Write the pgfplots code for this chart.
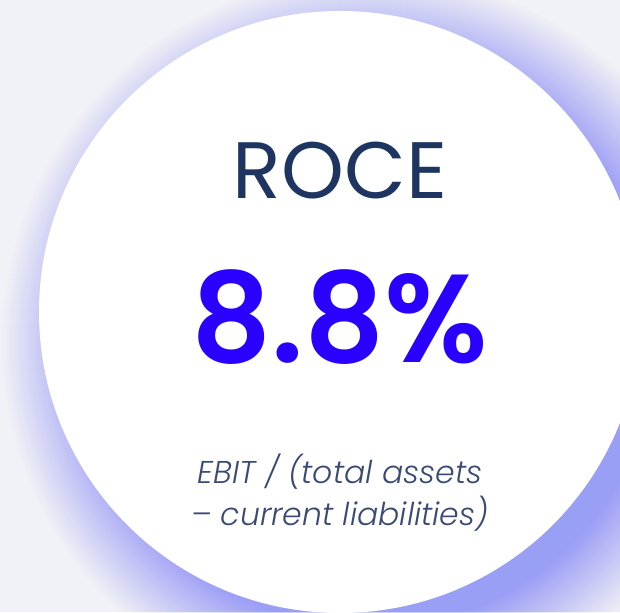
\documentclass[border=0pt]{standalone}
\usepackage{fontspec}
\setmainfont{Poppins}
\newfontfamily\popsemi{Poppins SemiBold}
\newfontfamily\poplightit{Poppins Light Italic}
\usepackage{pgfplots}
\pgfplotsset{compat=1.18}
\definecolor{bg}{HTML}{F1F2F8}
\definecolor{glow}{HTML}{989FF5}
\definecolor{navy}{HTML}{1F3561}
\definecolor{kpi}{HTML}{2A00FF}
\definecolor{sub}{HTML}{3A4A74}
\begin{document}
\begin{tikzpicture}
\useasboundingbox (0,0) rectangle (620pt,612pt);
\clip (0,0) rectangle (620pt,612pt);
\begin{axis}[
  at={(0,0)}, anchor=south west,
  scale only axis, width=620pt, height=612pt,
  xmin=0, xmax=620, ymin=0, ymax=612,
  hide axis, clip=true,
]
\fill[bg] (axis cs:0,0) rectangle (axis cs:620,612);
% soft blurred shadow (logistic profile), offset toward the lower right
\pgfplotsinvokeforeach{-45,...,165}{
  \fill[glow, opacity={0.6*0.031/(1+exp(0.031*((#1)+0.5)))}]
    (axis cs:370,270) circle[radius={(301+(#1))*1pt}];
}
% the card
\fill[white] (axis cs:340,300) circle[radius=301pt];
% the KPI value
\addplot[only marks, mark=none, draw=none,
  nodes near coords={8.8\%},
  nodes near coords align={anchor=base},
  every node near coord/.append style={text=kpi, font=\fontsize{125}{125}\popsemi, inner sep=0pt, anchor=base}]
  coordinates {(340,249)};
\node[anchor=base, text=navy, font=\fontsize{80}{80}\selectfont, inner sep=0pt] at (axis cs:340,413) {ROCE};
\node[anchor=base, text=sub, font=\fontsize{31.5}{42}\poplightit, inner sep=0pt] at (axis cs:340,128) {EBIT / (total assets};
\node[anchor=base, text=sub, font=\fontsize{31.5}{42}\poplightit, inner sep=0pt] at (axis cs:340,86) {– current liabilities)};
\end{axis}
\end{tikzpicture}
\end{document}
